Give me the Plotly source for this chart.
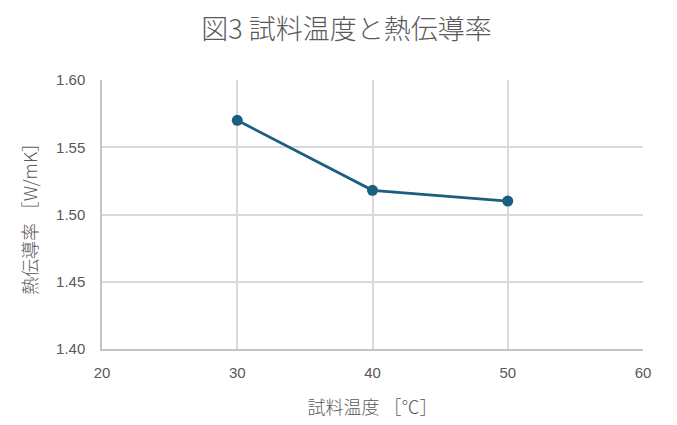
import plotly.graph_objects as go

temps = [30, 40, 50]
conductivity = [1.570, 1.518, 1.510]

x_ticks = [20, 30, 40, 50, 60]
y_ticks = [1.40, 1.45, 1.50, 1.55, 1.60]

FONT = "Noto Sans CJK JP"
GREY = "#595959"
LINE = "#1b5f80"

fig = go.Figure()
fig.add_trace(go.Scatter(
    x=temps,
    y=conductivity,
    mode="lines+markers",
    line=dict(color=LINE, width=2.8),
    marker=dict(color=LINE, size=11),
    showlegend=False,
))

# page body has an 8px margin, so margins are shifted to land on the reference spots
fig.update_layout(
    width=677,
    height=425,
    paper_bgcolor="white",
    plot_bgcolor="white",
    font=dict(family=FONT, color=GREY, size=14),
    title=dict(
        text="図3 試料温度と熱伝導率",
        x=0.5,
        xanchor="center",
        xref="container",
        y=1 - 22 / 425,
        yanchor="middle",
        font=dict(size=27, color=GREY, weight=300),
    ),
    margin=dict(l=94, r=42, t=72, b=84),
)

fig.update_xaxes(
    range=[20, 60],
    tickvals=x_ticks,
    ticktext=[str(v) for v in x_ticks],
    showgrid=True,
    gridcolor="#d9d9d9",
    gridwidth=1.5,
    zeroline=False,
    showline=True,
    linecolor="#c4c4c4",
    linewidth=1.5,
    ticks="",
    ticklabelstandoff=9,
    tickfont=dict(size=15, color=GREY, family="Liberation Sans"),
    title=dict(text="試料温度 ［℃］", font=dict(size=18, color=GREY, weight=300), standoff=22),
)
fig.update_yaxes(
    range=[1.40, 1.60],
    tickvals=y_ticks,
    ticktext=[f"{v:.2f}" for v in y_ticks],
    showgrid=True,
    gridcolor="#d9d9d9",
    gridwidth=1.5,
    zeroline=False,
    showline=True,
    linecolor="#c4c4c4",
    linewidth=1.5,
    ticks="",
    ticklabelstandoff=12,
    tickfont=dict(size=15, color=GREY, family="Liberation Sans"),
    title=dict(text="熱伝導率 ［W/mK］", font=dict(size=18, color=GREY, weight=300), standoff=14),
)

fig.write_html("out.html")
